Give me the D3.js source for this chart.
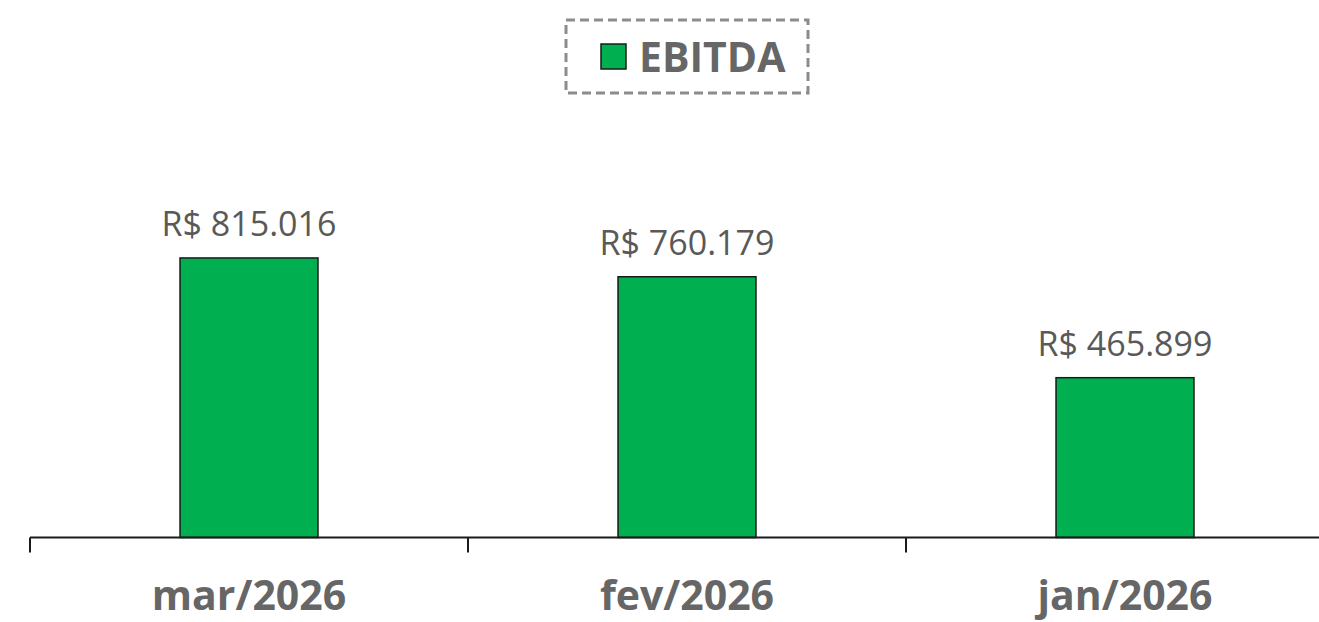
<!DOCTYPE html>
<html>
<head>
<meta charset="utf-8">
<script src="https://cdn.jsdelivr.net/npm/d3@7"></script>
<style>
  body { margin: 0; background: #fff; }
  text { font-family: "Open Sans", "Noto Sans", sans-serif; }
</style>
</head>
<body>
<div id="canvas"></div>
<script>
"use strict"
// chart values
let categories = ["mar/2026", "fev/2026", "jan/2026"];
let ebitda = [815016, 760179, 465899];
let labels = ["R$ 815.016", "R$ 760.179", "R$ 465.899"];
let seriesName = "EBITDA";

let svgWidth = 1319;
let svgHeight = 622;

let svg = d3.select("#canvas")
    .append("svg")
    .attr("width", svgWidth)
    .attr("height", svgHeight);

svg.append("rect")
    .attr("width", svgWidth)
    .attr("height", svgHeight)
    .attr("fill", "#ffffff");

// scales
let xScale = d3.scaleBand()
    .domain(categories)
    .range([30, 1344])
    .padding(0);

let yScale = d3.scaleLinear()
    .domain([0, 1000000])
    .range([537.5, 194.5]);

let barWidth = xScale.bandwidth() * 0.315;

// bars
svg.selectAll(".bar")
    .data(ebitda)
    .enter()
    .append("rect")
    .attr("class", "bar")
    .attr("x", (d, i) => xScale(categories[i]) + (xScale.bandwidth() - barWidth) / 2)
    .attr("y", d => yScale(d))
    .attr("width", barWidth)
    .attr("height", d => yScale(0) - yScale(d))
    .attr("fill", "#00B050")
    .attr("stroke", "#1a1a1a")
    .attr("stroke-width", 1.5);

// value labels
svg.selectAll(".valueLabel")
    .data(ebitda)
    .enter()
    .append("text")
    .attr("class", "valueLabel")
    .attr("x", (d, i) => xScale(categories[i]) + xScale.bandwidth() / 2)
    .attr("y", d => yScale(d) - 22)
    .attr("text-anchor", "middle")
    .attr("fill", "#595959")
    .style("font-size", "34px")
    .text((d, i) => labels[i]);

// x axis line and ticks at band edges
svg.append("line")
    .attr("x1", 30)
    .attr("x2", svgWidth)
    .attr("y1", yScale(0))
    .attr("y2", yScale(0))
    .attr("stroke", "#1a1a1a")
    .attr("stroke-width", 2);

svg.selectAll(".tick")
    .data(categories)
    .enter()
    .append("line")
    .attr("class", "tick")
    .attr("x1", d => xScale(d))
    .attr("x2", d => xScale(d))
    .attr("y1", yScale(0))
    .attr("y2", yScale(0) + 15)
    .attr("stroke", "#1a1a1a")
    .attr("stroke-width", 2);

// category labels
svg.selectAll(".catLabel")
    .data(categories)
    .enter()
    .append("text")
    .attr("class", "catLabel")
    .attr("x", d => xScale(d) + xScale.bandwidth() / 2)
    .attr("y", 610)
    .attr("text-anchor", "middle")
    .attr("fill", "#666666")
    .style("font-size", "41px")
    .style("font-weight", "bold")
    .text(d => d);

// legend
svg.append("rect")
    .attr("x", 566)
    .attr("y", 20)
    .attr("width", 242)
    .attr("height", 73)
    .attr("fill", "none")
    .attr("stroke", "#8c8c8c")
    .attr("stroke-width", 3)
    .attr("stroke-dasharray", "9,5");

svg.append("rect")
    .attr("x", 601)
    .attr("y", 44)
    .attr("width", 25)
    .attr("height", 25)
    .attr("fill", "#00B050")
    .attr("stroke", "#1a1a1a")
    .attr("stroke-width", 1.5);

svg.append("text")
    .attr("x", 639)
    .attr("y", 72)
    .attr("fill", "#666666")
    .style("font-size", "41px")
    .style("font-weight", "bold")
    .text(seriesName);
</script>
</body>
</html>
